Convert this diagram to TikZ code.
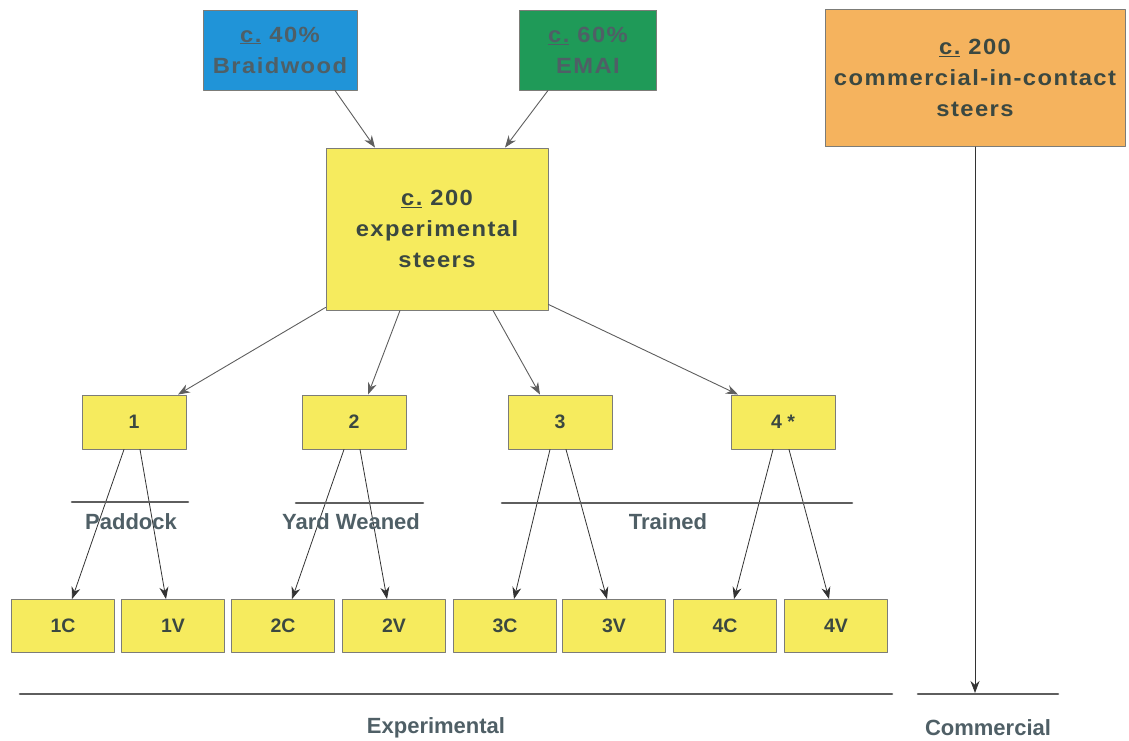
\documentclass[tikz,border=0pt]{standalone}
\usepackage{fontspec}
\setmainfont{Liberation Sans}
\newfontfamily\widefont{Liberation Sans}[FakeStretch=1.08,LetterSpace=6.5]
\usepackage{xcolor}
\usetikzlibrary{arrows.meta,positioning}
\definecolor{boxyellow}{HTML}{F6EB5E}
\definecolor{boxblue}{HTML}{2094D8}
\definecolor{boxgreen}{HTML}{1F9A58}
\definecolor{boxorange}{HTML}{F5B35E}
\definecolor{boxline}{HTML}{7C7C78}
\definecolor{ink}{HTML}{3B4841}
\definecolor{fadedink}{HTML}{4F5F66}
\definecolor{rulegray}{HTML}{5E5E5E}
\tikzset{
    every picture/.style={line cap=round,line join=round},
    bigbox/.style={draw=boxline,line width=0.9pt,inner sep=2pt,align=center,
      text=ink,font=\fontsize{22}{31}\widefont\bfseries},
    srcbox/.style={bigbox,text=fadedink,minimum height=80pt},
    groupbox/.style={draw=boxline,fill=boxyellow,line width=0.9pt,
      minimum width=104pt,minimum height=54pt,inner sep=1pt,
      text=ink,font=\fontsize{19.5}{22}\selectfont\bfseries},
    subbox/.style={groupbox,minimum width=103pt,minimum height=53pt},
    flowarrow/.style={-{Stealth[length=12pt,width=9pt]},draw=rulegray,
      line width=0.9pt},
    thinarrow/.style={-{Stealth[length=12pt,width=9pt]},draw=black!80,
      line width=0.8pt},
    grouprule/.style={draw=rulegray,line width=2.6pt},
    rulelabel/.style={text=fadedink,font=\fontsize{22}{24}\selectfont\bfseries}
}

\begin{document}
\begin{tikzpicture}[x=1pt,y=-1pt]
  \useasboundingbox (0,0) rectangle (1129,741);
  % sources
  \node[srcbox,fill=boxblue,minimum width=154pt] (braid) at (280,50) {\underline{c.} 40\%\\Braidwood};
  \node[srcbox,fill=boxgreen,minimum width=137pt] (emai) at (588,50) {\underline{c.} 60\%\\EMAI};
  \node[bigbox,fill=boxyellow,minimum width=222pt,minimum height=162pt] (exp) at (437,229)
    {\underline{c.} 200\\experimental\\steers};
  \node[bigbox,fill=boxorange,minimum width=300pt,minimum height=137pt] (comm) at (975,78)
    {\underline{c.} 200\\commercial-in-contact\\steers};
  \draw[flowarrow] ([xshift=55pt]braid.south) -- ([xshift=-62pt]exp.north);
  \draw[flowarrow] ([xshift=-40pt]emai.south) -- ([xshift=68pt]exp.north);
  % groups
  \foreach \g/\x/\t in {1/134/1,2/354/2,3/560/3,4/783/{4 *}}
    {\node[groupbox] (g\g) at (\x,422) {\t};}
  \draw[flowarrow] ([yshift=3pt]exp.south west) -- ([xshift=44pt]g1.north);
  \draw[flowarrow] ([xshift=-37pt]exp.south) -- ([xshift=14pt]g2.north);
  \draw[flowarrow] ([xshift=56pt]exp.south) -- ([xshift=-20pt]g3.north);
  \draw[flowarrow] ([yshift=6pt]exp.south east) -- ([xshift=-45pt]g4.north);
  % sub-groups
  \foreach \g/\xc/\xv in {1/63/173,2/283/394,3/505/614,4/725/836}{
    \node[subbox] (s\g C) at (\xc,626) {\g C};
    \node[subbox] (s\g V) at (\xv,626) {\g V};
    \draw[thinarrow] ([xshift=-10pt]g\g.south) -- ([xshift=9pt]s\g C.north);
    \draw[thinarrow] ([xshift=6pt]g\g.south) -- ([xshift=-7pt]s\g V.north);
  }
  % rearing rules
  \coordinate (padA) at (72,502);   \coordinate (padB) at (188,502);
  \coordinate (yardA) at (296,503); \coordinate (yardB) at (423,503);
  \coordinate (trA) at (502,503);   \coordinate (trB) at (852,503);
  \draw[grouprule] (padA) -- (padB);
  \draw[grouprule] (yardA) -- (yardB);
  \draw[grouprule] (trA) -- (trB);
  \node[rulelabel] (padlab) at (131,522) {Paddock};
  \node[rulelabel] (yardlab) at (351,522) {Yard Weaned};
  \node[rulelabel] (trlab) at (668,522) {Trained};
  % bottom rules
  \coordinate (expA) at (20,694);  \coordinate (expB) at (892,694);
  \coordinate (comA) at (918,694); \coordinate (comB) at (1058,694);
  \coordinate (commtip) at (975,694);
  \draw[grouprule] (expA) -- (expB);
  \draw[grouprule] (comA) -- (comB);
  \draw[thinarrow] (comm.south) -- ([yshift=1pt]commtip);
  \node[rulelabel] (explab) at (436,728) {Experimental};
  \node[rulelabel] (comlab) at (988,728) {Commercial};
\end{tikzpicture}
\end{document}
